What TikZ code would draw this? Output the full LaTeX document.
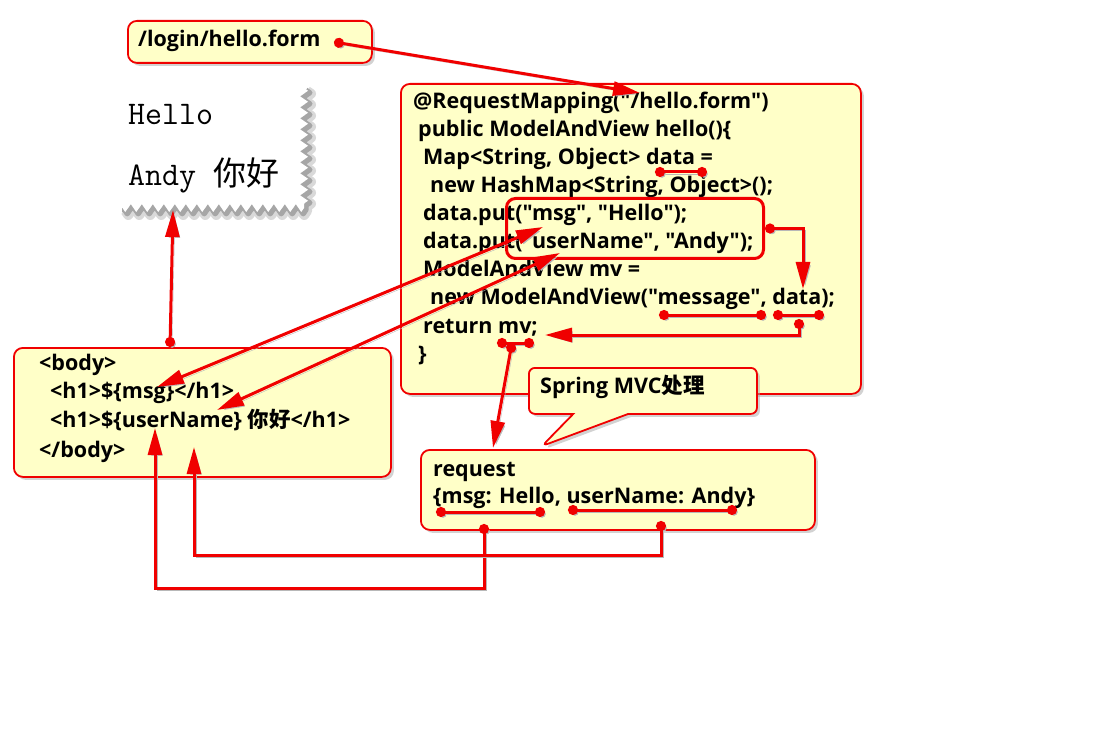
\documentclass[tikz,border=0pt]{standalone}
\usepackage{fontspec}
\setmainfont{Open Sans}[Ligatures=TeXOff]
\newfontfamily\cjk{Noto Sans CJK SC}
\usetikzlibrary{arrows.meta,shadows,shapes.callouts,decorations.pathmorphing,positioning}

\definecolor{notefill}{HTML}{FFFFC8}
\definecolor{linkred}{HTML}{F00000}
\newcommand\zh[1]{{\cjk #1}}

\tikzset{
  notebox/.style={draw=linkred, line width=1.8pt, fill=notefill, rounded corners=9pt,
    drop shadow={shadow xshift=3pt, shadow yshift=-3pt, fill=black!35}},
  codeline/.style={anchor=base west, inner sep=0pt, font=\bfseries\fontsize{21.5}{23}\selectfont},
  pageline/.style={anchor=base west, inner sep=0pt, font=\ttfamily\fontsize{33}{35}\selectfont},
  torn/.style={decoration={zigzag, segment length=11pt, amplitude=4pt}},
  link/.style={draw=linkred, line width=3pt,
    preaction={draw=black!28, transform canvas={shift={(2pt,-2pt)}}}},
  pin/.style={link, {Circle[length=10pt]}-{Circle[length=10pt]}},
  dotarrow/.style={link, {Circle[length=10pt]}-{Triangle[length=27pt,width=14pt]}},
  twoway/.style={link, {Triangle[length=27pt,width=14pt]}-{Triangle[length=27pt,width=14pt]}}
}

\begin{document}
\begin{tikzpicture}[x=1pt,y=-1pt]
\useasboundingbox (0,0) rectangle (1093,738);

% rendered page
\draw[torn, black!15, line width=10pt, line join=round, transform canvas={shift={(3pt,-3pt)}}]
  (304,88) decorate{ -- (304,208)} decorate{ -- (120,208)};
\draw[torn, black!35, line width=5pt, line join=round, transform canvas={shift={(2pt,-2pt)}}]
  (304,88) decorate{ -- (304,208)} decorate{ -- (120,208)};
\fill[torn, white] (120,88) -- (304,88) decorate{ -- (304,208)} decorate{ -- (120,208)} -- cycle;
\node[pageline] (hello) at (128,125) {Hello};
\node[pageline] (andy) at (128,186) {Andy \zh{你好}};
\coordinate (pagebot) at (173,210);

% url
\node[notebox, minimum width=244pt, minimum height=42pt, anchor=north west] (url) at (127,20) {};
\node[codeline] (urltext) at (138,47) {/login/hello.form};
\coordinate (urldot) at (334,42);

% controller
\node[notebox, minimum width=460pt, minimum height=310pt, anchor=north west] (ctrl) at (400,83) {};
\node[codeline] (c1) at (413,109) {@RequestMapping("/hello.form")};
\node[codeline] (c2) at (418,137) {public ModelAndView hello()\{};
\node[codeline] (c3) at (423,165) {Map<String, Object> data =};
\node[codeline] (c4) at (430,193) {new HashMap<String, Object>();};
\node[codeline] (c5) at (423,221) {data.put("msg", "Hello");};
\node[codeline] (c6) at (423,249) {data.put("userName", "Andy");};
\node[codeline] (c7) at (423,277) {ModelAndView mv =};
\node[codeline] (c8) at (430,305) {new ModelAndView("message", data);};
\node[codeline] (c9) at (423,333) {return mv;};
\node[codeline] (c10) at (418,361) {\}};
\node[draw=linkred, line width=3pt, rounded corners=9pt, minimum width=257pt,
  minimum height=60pt, anchor=north west] (putbox) at (505,197) {};

% view
\node[notebox, minimum width=377pt, minimum height=129pt, anchor=north west] (body) at (13,347) {};
\node[codeline] (b1) at (39,370) {<body>};
\node[codeline] (b2) at (50,398) {<h1>\$\{msg\}</h1>};
\node[codeline] (b3) at (50,427) {<h1>\$\{userName\} \zh{你好}</h1>};
\node[codeline] (b4) at (39,457) {</body>};

% note
\node[notebox, rounded corners=6pt, rectangle callout, minimum width=228pt, minimum height=46pt,
  anchor=north west, callout absolute pointer={(542,446)}, callout pointer width=55pt] (spring) at (528,367) {};
\node[codeline] (springtext) at (540,393) {Spring MVC\zh{处理}};

% request
\node[notebox, minimum width=394pt, minimum height=80pt, anchor=north west] (req) at (420,449) {};
\node[codeline] (r1) at (433,476) {request};
\node[codeline] (r2) at (433,503) {\{msg: Hello, userName: Andy\}};

% anchors on the text
\coordinate (maparg) at (640,93);
\coordinate (dataL) at (655,172);
\coordinate (dataR) at (707,172);
\coordinate (mvdata) at (803,289);
\coordinate (msgL) at (659,315);
\coordinate (msgR) at (766,315);
\coordinate (argL) at (773,315);
\coordinate (argR) at (824,315);
\coordinate (modelpin) at (799,319);
\coordinate (retmv) at (545,335);
\coordinate (mvL) at (497,343);
\coordinate (mvR) at (534,343);
\coordinate (mvpin) at (512,343);
\coordinate (reqtop) at (493,448);
\coordinate (putmsg) at (543,227);
\coordinate (putuser) at (560,253);
\coordinate (viewmsg) at (157,387);
\coordinate (viewuser) at (217,410);
\coordinate (bodytop) at (170,347);
\coordinate (reqmsgL) at (436,512);
\coordinate (reqmsgR) at (545,512);
\coordinate (requserL) at (568,510);
\coordinate (requserR) at (737,510);
\coordinate (reqmsg) at (484,524);
\coordinate (requser) at (661,521);
\coordinate (viewuserpin) at (155,428);
\coordinate (viewbodypin) at (194,447);

% connectors
\draw[dotarrow] (urldot) -- (maparg);
\draw[pin] (dataL) -- (dataR);
\draw[dotarrow] (putbox.east) -| (mvdata);
\draw[pin] (msgL) -- (msgR);
\draw[pin] (argL) -- (argR);
\draw[dotarrow] (modelpin) |- (retmv);
\draw[pin] (mvL) -- (mvR);
\draw[dotarrow] (mvpin) -- (reqtop);
\draw[twoway] (viewmsg) -- (putmsg);
\draw[twoway] (viewuser) -- (putuser);
\draw[dotarrow] (bodytop) -- (pagebot);
\draw[pin] (reqmsgL) -- (reqmsgR);
\draw[pin] (requserL) -- (requserR);
\draw[dotarrow] (reqmsg) -- (484,588) -| (viewuserpin);
\draw[dotarrow] (requser) -- (661,555) -| (viewbodypin);
\end{tikzpicture}
\end{document}
